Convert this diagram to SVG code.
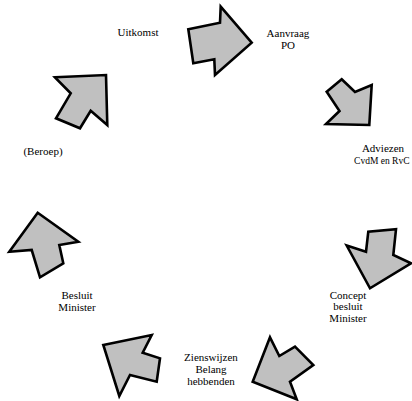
<svg xmlns="http://www.w3.org/2000/svg" width="412" height="401" viewBox="0 0 412 401">
<style>
.arrow{fill:#c0c0c0;stroke:#000;stroke-width:2.6;stroke-linejoin:miter}
.lbl{font-family:"Liberation Serif","Times New Roman",serif;font-size:11px;fill:#000;text-anchor:middle}
</style>
<rect width="412" height="401" fill="#fff"/>
<g id="connectors">
<polygon id="arrow1" class="arrow" points="188.3,29.3 220,22.7 220.7,6.7 251.7,42.7 215,75 214.3,59.3 193.3,63.3"/>
<polygon id="arrow2" class="arrow" points="341.7,79.3 355,92 371.7,85 369.3,125 326,124 339.5,111 326.7,91.7"/>
<polygon id="arrow3" class="arrow" points="346.7,245.5 366,251.7 368.3,231.7 396,229.3 393.3,255 411,263.3 370,288.3"/>
<polygon id="arrow4" class="arrow" points="270,337.3 279.3,356 295,346.7 313.3,365 290,381.7 296.7,399.3 252.7,381.7"/>
<polygon id="arrow5" class="arrow" points="103.3,345 151.7,335 142.7,352.7 160,358.3 156.7,381.7 130,375 119.3,396"/>
<polygon id="arrow6" class="arrow" points="37.7,212.7 78.3,241.7 59.3,245 63.3,263.3 40,277.3 31.7,250 9.3,251.7"/>
<polygon id="arrow7" class="arrow" points="55,77.3 106,75 107.3,125 90.7,110.7 80,128.3 56,118.3 70.7,93.3"/>
</g>
<g id="uitkomst"><text class="lbl" x="138" y="36">Uitkomst</text></g>
<g id="aanvraag"><text class="lbl" x="288" y="37">Aanvraag</text><text class="lbl" x="288" y="48.5">PO</text></g>
<g id="adviezen"><text class="lbl" x="383" y="152">Adviezen</text><text class="lbl" x="409.5" y="163.5" style="text-anchor:end;font-size:9.5px">CvdM en RvC</text></g>
<g id="concept"><text class="lbl" x="348" y="298.5">Concept</text><text class="lbl" x="348" y="310">besluit</text><text class="lbl" x="348" y="321.5">Minister</text></g>
<g id="zienswijzen"><text class="lbl" x="211" y="361">Zienswijzen</text><text class="lbl" x="211" y="373">Belang</text><text class="lbl" x="211" y="385">hebbenden</text></g>
<g id="besluit"><text class="lbl" x="77" y="299">Besluit</text><text class="lbl" x="77" y="310.5">Minister</text></g>
<g id="beroep"><text class="lbl" x="43" y="154.5">(Beroep)</text></g>
</svg>
